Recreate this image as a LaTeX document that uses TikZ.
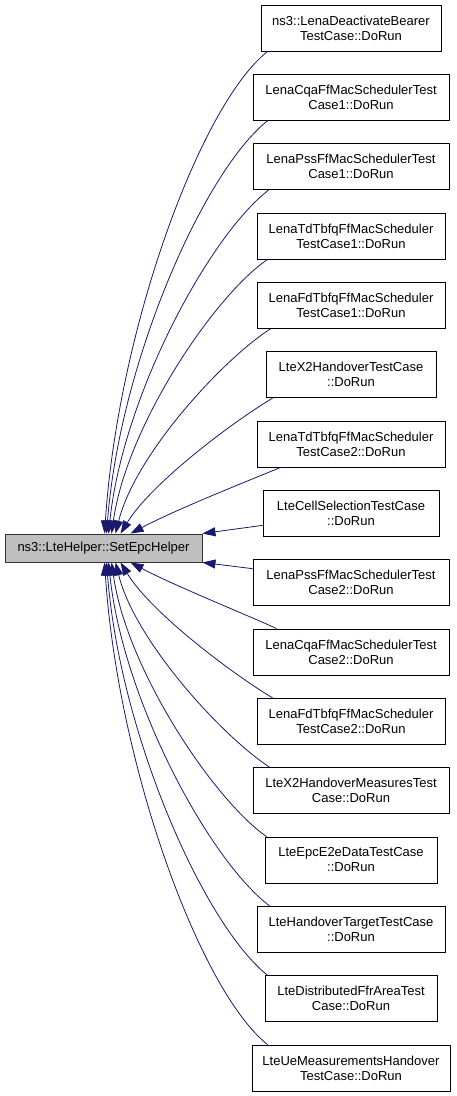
\documentclass[tikz,border=0pt]{standalone}
\usepackage{fontspec}
\setmainfont{Liberation Sans}
\usetikzlibrary{arrows.meta,calc}
\definecolor{edgeblue}{HTML}{191970}
\definecolor{nodegray}{HTML}{BFBFBF}
\tikzset{
  fn/.style={draw=black, line width=0.9pt, fill=white, align=center, inner sep=0pt,
    minimum height=46pt, font=\fontsize{13}{15}\selectfont},
  mainfn/.style={draw=black!80, line width=0.9pt, fill=nodegray, inner sep=0pt,
    minimum width=197pt, minimum height=28pt, font=\fontsize{13}{15}\selectfont},
  edge/.style={draw=edgeblue, line width=0.8pt, -{Triangle[length=13pt,width=9pt]}, fill=none},
}
\begin{document}
\begin{tikzpicture}[x=1pt,y=-1pt]
\useasboundingbox (0,0) rectangle (456,1096);
\node[mainfn] (L) at (103.5,548) {ns3::LteHelper::SetEpcHelper};
\node[fn, minimum width=180pt] (b1)  at (351,28)     {ns3::LenaDeactivateBearer\\TestCase::DoRun};
\node[fn, minimum width=196pt] (b2)  at (351,97.33)  {LenaCqaFfMacSchedulerTest\\Case1::DoRun};
\node[fn, minimum width=196pt] (b3)  at (351,166.67) {LenaPssFfMacSchedulerTest\\Case1::DoRun};
\node[fn, minimum width=188pt] (b4)  at (351,236)    {LenaTdTbfqFfMacScheduler\\TestCase1::DoRun};
\node[fn, minimum width=188pt] (b5)  at (351,305.33) {LenaFdTbfqFfMacScheduler\\TestCase1::DoRun};
\node[fn, minimum width=170pt] (b6)  at (351,374.67) {LteX2HandoverTestCase\\::DoRun};
\node[fn, minimum width=188pt] (b7)  at (351,444)    {LenaTdTbfqFfMacScheduler\\TestCase2::DoRun};
\node[fn, minimum width=176pt] (b8)  at (351,513.33) {LteCellSelectionTestCase\\::DoRun};
\node[fn, minimum width=196pt] (b9)  at (351,582.67) {LenaPssFfMacSchedulerTest\\Case2::DoRun};
\node[fn, minimum width=196pt] (b10) at (351,652)    {LenaCqaFfMacSchedulerTest\\Case2::DoRun};
\node[fn, minimum width=188pt] (b11) at (351,721.33) {LenaFdTbfqFfMacScheduler\\TestCase2::DoRun};
\node[fn, minimum width=196pt] (b12) at (351,790.67) {LteX2HandoverMeasuresTest\\Case::DoRun};
\node[fn, minimum width=172pt] (b13) at (351,860)    {LteEpcE2eDataTestCase\\::DoRun};
\node[fn, minimum width=188pt] (b14) at (351,929.33) {LteHandoverTargetTestCase\\::DoRun};
\node[fn, minimum width=172pt] (b15) at (351,998.67) {LteDistributedFfrAreaTest\\Case::DoRun};
\node[fn, minimum width=198pt] (b16) at (351,1068)   {LteUeMeasurementsHandover\\TestCase::DoRun};
% top edges
\draw[edge] ($(b1.south west)+(7,0)$)  .. controls (200,105) and (118,330) .. ($(L.north west)+(100,0)$);
\draw[edge] ($(b2.south west)+(15,0)$) .. controls (205,170) and (120,360) .. ($(L.north west)+(102,0)$);
\draw[edge] ($(b3.south west)+(16,0)$) .. controls (210,235) and (123,395) .. ($(L.north west)+(104,0)$);
\draw[edge] ($(b4.south west)+(11,0)$) .. controls (215,295) and (127,425) .. ($(L.north west)+(107,0)$);
\draw[edge] ($(b5.south west)+(14,0)$) .. controls (222,360) and (135,455) .. ($(L.north west)+(111,0)$);
\draw[edge] ($(b6.south west)+(7,0)$)  .. controls (228,425) and (150,485) .. ($(L.north west)+(116,0)$);
\draw[edge] ($(b7.south west)+(24,0)$) .. controls (245,482) and (175,510) .. ($(L.north west)+(126,0)$);
\draw[edge] ($(b8.west)+(0,12)$) -- ($(L.north east)+(0,0)$);
% bottom edges
\draw[edge] ($(b9.west)+(0,-14)$) -- ($(L.south east)+(0,0)$);
\draw[edge] ($(b10.north west)+(24,0)$) .. controls (245,614) and (175,586) .. ($(L.south west)+(126,0)$);
\draw[edge] ($(b11.north west)+(16,0)$) .. controls (228,671) and (150,611) .. ($(L.south west)+(116,0)$);
\draw[edge] ($(b12.north west)+(17,0)$) .. controls (222,736) and (135,641) .. ($(L.south west)+(111,0)$);
\draw[edge] ($(b13.north west)+(2,0)$) .. controls (215,801) and (127,671) .. ($(L.south west)+(107,0)$);
\draw[edge] ($(b14.north west)+(13,0)$) .. controls (210,861) and (123,701) .. ($(L.south west)+(104,0)$);
\draw[edge] ($(b15.north west)+(3,0)$) .. controls (205,926) and (120,736) .. ($(L.south west)+(102,0)$);
\draw[edge] ($(b16.north west)+(16,0)$) .. controls (200,991) and (118,766) .. ($(L.south west)+(100,0)$);
\end{tikzpicture}
\end{document}
